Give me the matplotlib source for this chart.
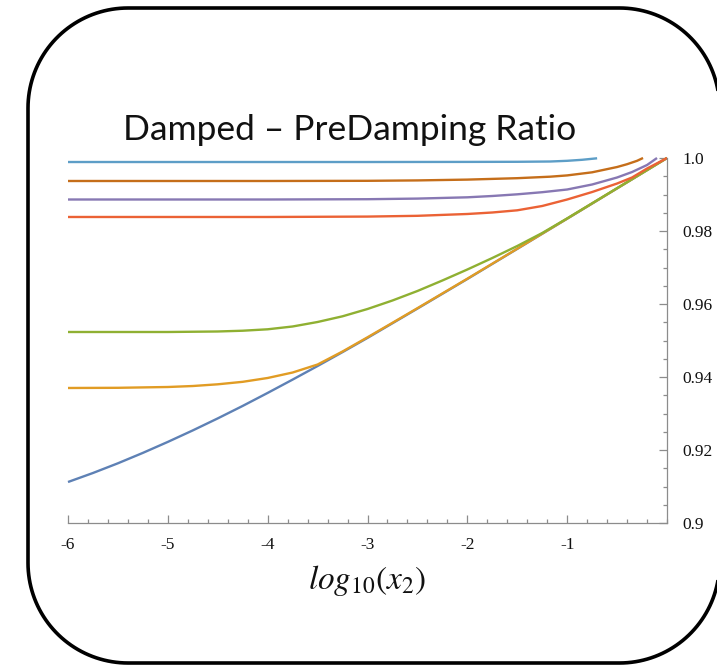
import numpy as np
import matplotlib
matplotlib.use("Agg")
import matplotlib.pyplot as plt
from matplotlib.patches import Polygon
from matplotlib.ticker import MultipleLocator, FixedLocator, FixedFormatter

plt.rcParams['axes.unicode_minus'] = False
plt.rcParams['mathtext.fontset'] = 'stix'

# data (log10(x2) -> ratio)
x_blue = [-6, -5.75, -5.5, -5.25, -5, -4.75, -4.5, -4.25, -4, -3.75, -3.5,
          -3.25, -3, -2.5, -2, -1.5, -1, -0.5, 0]
blue = [0.91123, 0.91370, 0.91636, 0.91921, 0.92222, 0.92537, 0.92866,
        0.93208, 0.93564, 0.93929, 0.94301, 0.94682, 0.95071, 0.95874,
        0.96685, 0.97510, 0.98337, 0.99167, 1.0]

x_orange = [-6, -5.5, -5, -4.75, -4.5, -4.25, -4, -3.75, -3.5, -3.25, -3,
            -2.75, -2.5, -2, -1.5, -1, -0.5, 0]
orange = [0.93699, 0.93704, 0.93726, 0.93753, 0.93800, 0.93868, 0.93973,
          0.94123, 0.94342, 0.94699, 0.95088, 0.95485, 0.95885, 0.96693,
          0.97515, 0.98340, 0.99170, 1.0]

x_green = [-6, -5, -4.5, -4.25, -4, -3.75, -3.5, -3.25, -3, -2.75, -2.5,
           -2.25, -2, -1.75, -1.5, -1.25, -1, -0.75, -0.5, 0]
green = [0.95233, 0.95233, 0.95247, 0.95268, 0.95307, 0.95384, 0.95507,
         0.95663, 0.95863, 0.96096, 0.96356, 0.96644, 0.96945, 0.97260,
         0.97589, 0.97945, 0.98345, 0.98759, 0.99173, 1.0]

x_red = [-6, -4, -3, -2.5, -2, -1.75, -1.5, -1.25, -1, -0.75, -0.5, -0.35,
         -0.2, -0.1, 0]
red = [0.98384, 0.98384, 0.98395, 0.98416, 0.98466, 0.98507, 0.98567,
       0.98685, 0.98863, 0.99068, 0.99301, 0.99466, 0.99712, 0.99855, 1.0]

x_purple = [-6, -4, -3, -2.5, -2, -1.75, -1.5, -1.25, -1, -0.75, -0.5,
            -0.35, -0.2, -0.1]
purple = [0.98863, 0.98863, 0.98871, 0.98888, 0.98923, 0.98959, 0.99005,
          0.99063, 0.99137, 0.99274, 0.99466, 0.99616, 0.99808, 1.0]

x_brown = [-6, -4, -3, -2.5, -2, -1.5, -1.17, -1, -0.75, -0.5, -0.4, -0.3,
           -0.24]
brown = [0.99370, 0.99370, 0.99375, 0.99386, 0.99408, 0.99447, 0.99488,
         0.99523, 0.99608, 0.99753, 0.99830, 0.99923, 1.0]

x_lblue = [-6, -5, -4, -3, -2, -1.5, -1.17, -1, -0.85, -0.7]
lblue = [0.99890, 0.99890, 0.99890, 0.99890, 0.99893, 0.99896, 0.99904,
         0.99923, 0.99951, 0.99992]

y_ticks = [0.9, 0.92, 0.94, 0.96, 0.98, 1.0]
y_labels = ["0.9", "0.92", "0.94", "0.96", "0.98", "1.0"]
x_ticks = [-6, -5, -4, -3, -2, -1]
x_labels = ["-6", "-5", "-4", "-3", "-2", "-1"]

W, H = 717, 665
fig = plt.figure(figsize=(W / 100, H / 100), dpi=100)
ax = fig.add_axes([68 / W, 142 / H, 599 / W, 365 / H])

series = [
    (x_blue, blue, "#5E81B5"),
    (x_orange, orange, "#E19C24"),
    (x_green, green, "#8FB032"),
    (x_red, red, "#EB6235"),
    (x_purple, purple, "#8778B3"),
    (x_brown, brown, "#C56E1A"),
    (x_lblue, lblue, "#5D9EC7"),
]
for xs, ys, c in series:
    ax.plot(xs, ys, color=c, lw=1.7, clip_on=False, solid_capstyle='butt',
            solid_joinstyle='round')

ax.set_xlim(-6, 0)
ax.set_ylim(0.9, 1.0)

for s in ["top", "left"]:
    ax.spines[s].set_visible(False)
for s in ["bottom", "right"]:
    ax.spines[s].set_color("#8c8c8c")
    ax.spines[s].set_linewidth(0.9)

ax.yaxis.tick_right()
ax.xaxis.set_major_locator(FixedLocator(x_ticks))
ax.xaxis.set_major_formatter(FixedFormatter(x_labels))
ax.xaxis.set_minor_locator(MultipleLocator(0.2))
ax.yaxis.set_major_locator(FixedLocator(y_ticks))
ax.yaxis.set_major_formatter(FixedFormatter(y_labels))
ax.yaxis.set_minor_locator(MultipleLocator(0.005))

ax.tick_params(which="both", direction="in", color="#8c8c8c", width=0.9,
               labelsize=12.5, labelcolor="#111111")
ax.tick_params(which="major", length=5.5)
ax.tick_params(which="minor", length=3)
ax.tick_params(axis="x", pad=10)
ax.tick_params(axis="y", pad=11)
for lab in ax.get_xticklabels() + ax.get_yticklabels():
    lab.set_family("Liberation Serif")
for lab in ax.get_yticklabels():
    lab.set_verticalalignment("center_baseline")

fig.text(367 / W, 1 - 580 / H, r"$log_{10}(x_2)$", fontsize=24,
         ha="center", va="center", color="#111111")

fig.text(350 / W, 1 - 130 / H, "Damped \u2013 PreDamping Ratio",
         fontsize=25.5, ha="center", va="center", family="Lato",
         color="#111111")

# rounded frame, drawn in pixel coordinates with circular corners
left, right, bottom, top, r = 28, 719.5, 2, 657, 100
pts = []
for cx, cy, a0 in [(right - r, top - r, 0), (left + r, top - r, 90),
                   (left + r, bottom + r, 180), (right - r, bottom + r, 270)]:
    t = np.radians(np.linspace(a0, a0 + 90, 40))
    pts += list(zip(cx + r * np.cos(t), cy + r * np.sin(t)))
frame = Polygon(pts, closed=True, transform=None, fill=False, ec="black",
                lw=2.6)
fig.patches.append(frame)

fig.savefig("out.png", dpi=100)
